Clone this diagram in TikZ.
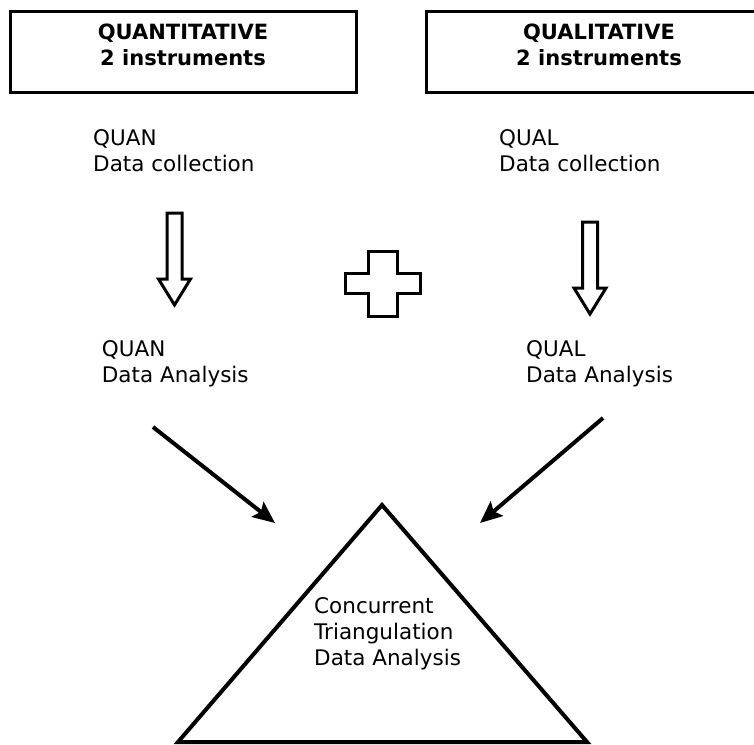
\documentclass[tikz,border=0pt]{standalone}
\usepackage{fontspec}
\setmainfont{DejaVu Sans}
\usetikzlibrary{arrows.meta}

\tikzset{
  headbox/.style={draw, line width=3pt, minimum width=346pt, minimum height=81pt, inner sep=0pt},
  heading/.style={font=\bfseries\fontsize{21}{26.5}\selectfont, align=center, inner sep=0pt, anchor=north},
  stage/.style={font=\fontsize{21.5}{26}\selectfont, align=left, inner sep=0pt, anchor=north west},
  blockarrow/.style={line width=3pt, line join=miter},
  mergearrow/.style={line width=4pt, -{Stealth[length=22pt, width=19pt, inset=4pt]}},
}

\begin{document}
\begin{tikzpicture}[x=1pt, y=-1pt]
  \useasboundingbox (0,0) rectangle (754,744);
  \clip (0,0) rectangle (754,744);
  % the two strands
  \node[headbox] (qnbox) at (183,51.5) {};
  \node[headbox] (qlbox) at (599,51.5) {};
  \node[heading] (qnhead) at ([yshift=-14pt]qnbox.north) {QUANTITATIVE\\2 instruments};
  \node[heading] (qlhead) at ([yshift=-14pt]qlbox.north) {QUALITATIVE\\2 instruments};
  % collection and analysis steps
  \node[stage] (qncoll) at (93,129) {QUAN\\Data collection};
  \node[stage] (qlcoll) at (499,129) {QUAL\\Data collection};
  \node[stage] (qnanal) at (101.7,340.7) {QUAN\\Data Analysis};
  \node[stage] (qlanal) at (526,340.7) {QUAL\\Data Analysis};
  % hollow arrows down
  \foreach \x/\y in {174.5/213, 590/222} {
    \draw[blockarrow] (\x-7.5,\y) -- (\x+7.5,\y) -- (\x+7.5,\y+66) -- (\x+16,\y+66)
      -- (\x,\y+92) -- (\x-16,\y+66) -- (\x-7.5,\y+66) -- cycle;
  }
  % plus between the strands
  \draw[blockarrow] (368,251) -- (397,251) -- (397,273) -- (420,273) -- (420,293)
    -- (397,293) -- (397,316) -- (368,316) -- (368,293) -- (345,293) -- (345,273)
    -- (368,273) -- cycle;
  % merge: triangle
  \draw[line width=4pt, line join=miter] (382,505) -- (587,742) -- (178,742) -- cycle;
  \node[stage] (ctda) at (314,597) {Concurrent\\Triangulation\\Data Analysis};
  \coordinate (qnfrom) at (153,427);
  \coordinate (qnto) at (275,523);
  \coordinate (qlfrom) at (603,418);
  \coordinate (qlto) at (480,523);
  \draw[mergearrow] (qnfrom) -- (qnto);
  \draw[mergearrow] (qlfrom) -- (qlto);
\end{tikzpicture}
\end{document}
